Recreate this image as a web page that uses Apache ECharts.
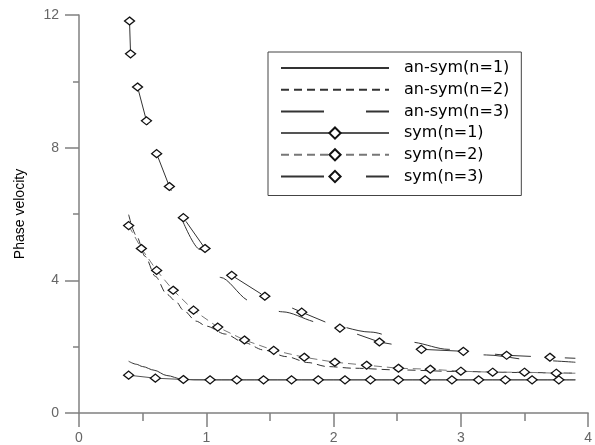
<!DOCTYPE html>
<html>
<head>
<meta charset="utf-8">
<title>Phase velocity</title>
<script src="https://cdn.jsdelivr.net/npm/echarts@6/dist/echarts.min.js"></script>
<style>
	html,body{margin:0;padding:0;background:#fff;}
	#main{width:595px;height:445px;}
</style>
</head>
<body>
<div id="main"></div>
<script>
/************
 * 相速度曲线
 * an-sym : 反对称模态 (只画线)
 * sym    : 对称模态 (线 + 菱形点)
 * ************/

// 坐标轴刻度
var xTicks = [0, 1, 2, 3, 4];
var yTicks = [0, 4, 8, 12];

// an-sym(n=1)
var xAnSym1 = [0.39, 0.45, 0.50, 0.59, 0.69, 0.81, 0.90, 1.00, 1.50, 2.00, 2.50, 3.00, 3.50, 3.90];
var yAnSym1 = [1.56, 1.47, 1.40, 1.29, 1.13, 1.02, 1.00, 1.00, 1.00, 1.00, 1.00, 1.00, 1.00, 1.00];

// an-sym(n=2)
var xAnSym2 = [0.39, 0.45, 0.52, 0.60, 0.69, 0.76, 0.82, 0.92, 1.00, 1.15, 1.30, 1.45, 1.63, 1.80, 1.95, 2.16, 2.50, 3.00, 3.50, 3.90];
var yAnSym2 = [5.98, 5.35, 4.72, 4.12, 3.58, 3.37, 3.10, 2.77, 2.62, 2.38, 2.12, 1.90, 1.70, 1.52, 1.40, 1.35, 1.30, 1.25, 1.22, 1.20];

// an-sym(n=3)
var xAnSym3 = [0.81, 0.95, 1.11, 1.35, 1.60, 1.90, 2.29, 2.60, 2.90, 3.20, 3.59, 3.90];
var yAnSym3 = [5.83, 4.93, 4.09, 3.37, 3.05, 2.72, 2.44, 2.14, 1.92, 1.75, 1.59, 1.53];

// sym(n=1) 最后一个点只是线尾
var xSym1 = [0.39, 0.60, 0.82, 1.03, 1.24, 1.45, 1.67, 1.88, 2.09, 2.29, 2.51, 2.72, 2.93, 3.14, 3.35, 3.56, 3.77, 3.90];
var ySym1 = [1.14, 1.05, 1.01, 1.00, 1.00, 1.00, 1.00, 1.00, 1.00, 1.00, 1.00, 1.00, 1.00, 1.00, 1.00, 1.00, 1.00, 1.00];

// sym(n=2)
var xSym2 = [0.39, 0.49, 0.61, 0.74, 0.90, 1.09, 1.30, 1.53, 1.77, 2.01, 2.26, 2.51, 2.76, 3.00, 3.25, 3.50, 3.75, 3.90];
var ySym2 = [5.65, 4.96, 4.30, 3.70, 3.10, 2.59, 2.20, 1.89, 1.68, 1.53, 1.44, 1.35, 1.32, 1.26, 1.23, 1.23, 1.20, 1.20];

// sym(n=3)
var xSym3 = [0.397, 0.405, 0.46, 0.53, 0.61, 0.71, 0.82, 0.99, 1.20, 1.46, 1.75, 2.05, 2.36, 2.69, 3.02, 3.36, 3.70, 3.90];
var ySym3 = [11.82, 10.83, 9.83, 8.81, 7.82, 6.83, 5.89, 4.96, 4.15, 3.52, 3.04, 2.56, 2.14, 1.92, 1.86, 1.74, 1.68, 1.65];

var seriesNames = ["an-sym(n=1)", "an-sym(n=2)", "an-sym(n=3)", "sym(n=1)", "sym(n=2)", "sym(n=3)"];

var dashN2 = [8, 5];
var dashN3 = [36, 34];

// 拼数据, withTail = true 时最后一点不画菱形
function buildData(xs, ys, withTail) {
	var arr = [];
	for (var i = 0; i < xs.length; i++) {
		if (withTail && i == xs.length - 1) {
			arr.push({value: [xs[i], ys[i]], symbol: "none"});
		} else {
			arr.push([xs[i], ys[i]]);
		}
	}
	return arr;
}

function lineSeries(name, data, color, dash, smooth) {
	return {
		name: name,
		type: "line",
		data: data,
		symbol: "none",
		smooth: smooth ? 0.3 : false,
		smoothMonotone: "x",
		lineStyle: {color: color, width: 1, type: dash},
		itemStyle: {color: color},
		animation: false
	};
}

function symSeries(name, data, color, dash) {
	return {
		name: name,
		type: "line",
		data: data,
		symbol: "diamond",
		symbolSize: [10, 8],
		showAllSymbol: true,
		lineStyle: {color: color, width: 1, type: dash},
		itemStyle: {color: "#fff", borderColor: "#111", borderWidth: 1.3},
		animation: false
	};
}

var series = [
	lineSeries(seriesNames[0], buildData(xAnSym1, yAnSym1, false), "#333", "solid", true),
	lineSeries(seriesNames[1], buildData(xAnSym2, yAnSym2, false), "#333", dashN2, true),
	lineSeries(seriesNames[2], buildData(xAnSym3, yAnSym3, false), "#333", dashN3, true),
	symSeries(seriesNames[3], buildData(xSym1, ySym1, true), "#555", "solid"),
	symSeries(seriesNames[4], buildData(xSym2, ySym2, true), "#777", dashN2),
	symSeries(seriesNames[5], buildData(xSym3, ySym3, true), "#333", dashN3)
];

// 图例: an-sym 不要圆点, n=3 的虚线加长
var legendData = [];
for (var i = 0; i < seriesNames.length; i++) {
	var item = {name: seriesNames[i]};
	if (i < 3) item.itemStyle = {color: "rgba(0,0,0,0)", borderWidth: 0};
	if (i == 2 || i == 5) item.lineStyle = {type: [43, 42]};
	legendData.push(item);
}

var axisGray = "#808080";

var option = {
	backgroundColor: "#fff",
	animation: false,
	grid: {left: 79, right: 2, top: 15, bottom: 31},
	legend: {
		data: legendData,
		orient: "vertical",
		left: 268,
		top: 52,
		padding: [8, 12, 11, 12],
		itemWidth: 108,
		itemHeight: 14,
		itemGap: 5.7,
		borderColor: "#444",
		borderWidth: 1,
		backgroundColor: "#fff",
		textStyle: {color: "#000", fontFamily: "DejaVu Sans", fontSize: 16, lineHeight: 14, padding: [0, 0, 0, 10]}
	},
	xAxis: {
		type: "value",
		min: xTicks[0],
		max: xTicks[xTicks.length - 1],
		interval: 1,
		axisLine: {lineStyle: {color: axisGray, width: 1.5}},
		axisTick: {length: 14, lineStyle: {color: axisGray, width: 1.5}},
		minorTick: {show: true, splitNumber: 2, length: 8, lineStyle: {color: axisGray, width: 1.5}},
		splitLine: {show: false},
		axisLabel: {color: "#666", fontFamily: "Liberation Sans", fontSize: 14, margin: 18}
	},
	yAxis: {
		type: "value",
		min: yTicks[0],
		max: yTicks[yTicks.length - 1],
		interval: 4,
		name: "Phase velocity",
		nameLocation: "middle",
		nameGap: 52,
		nameTextStyle: {color: "#000", fontFamily: "Liberation Sans", fontSize: 14},
		axisLine: {lineStyle: {color: axisGray, width: 1.5}},
		axisTick: {length: 14, lineStyle: {color: axisGray, width: 1.5}},
		minorTick: {show: true, splitNumber: 2, length: 6, lineStyle: {color: axisGray, width: 1.5}},
		splitLine: {show: false},
		axisLabel: {color: "#666", fontFamily: "Liberation Sans", fontSize: 14, margin: 20}
	},
	series: series
};

var chart = echarts.init(document.getElementById("main"), null, {renderer: "canvas"});
chart.setOption(option);
</script>
</body>
</html>
